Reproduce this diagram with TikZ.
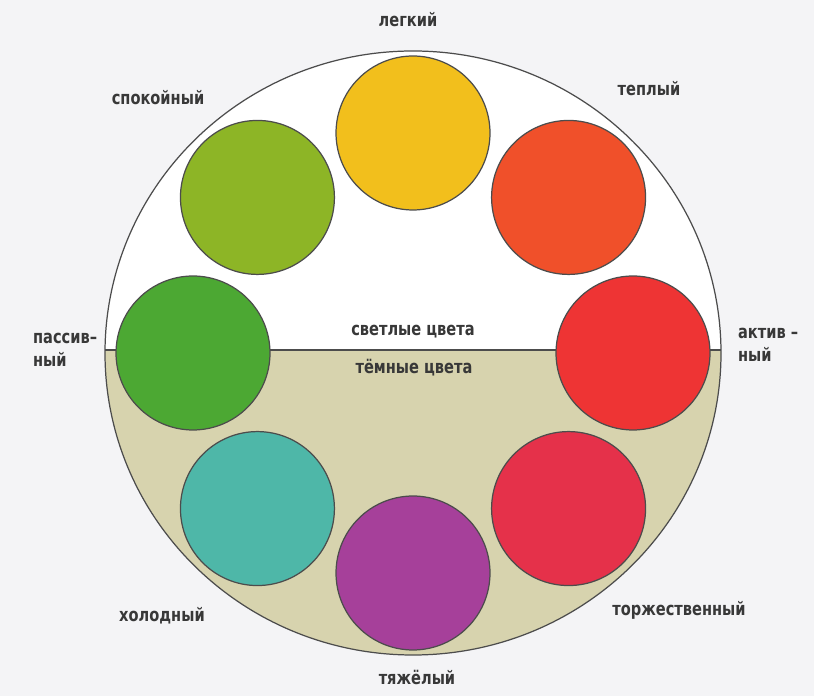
\documentclass[tikz,border=0pt]{standalone}
\usepackage{fontspec}
\setsansfont{DejaVu Sans Condensed}[FakeStretch=0.88]
\usetikzlibrary{calc, positioning}
\definecolor{cPage}{HTML}{F4F4F6}
\definecolor{cDark}{HTML}{D7D3AE}
\definecolor{cInk}{HTML}{383838}
\definecolor{cYel}{HTML}{F2BF1C}
\definecolor{cOra}{HTML}{F0502A}
\definecolor{cRed}{HTML}{EE3434}
\definecolor{cCrm}{HTML}{E5314A}
\definecolor{cPur}{HTML}{A6409A}
\definecolor{cTea}{HTML}{4EB7A8}
\definecolor{cGrn}{HTML}{4CA833}
\definecolor{cLim}{HTML}{8DB526}
\tikzset{
    wheel/.style={draw=cInk!90, line width=0.7pt},
    tone/.style={circle, draw=cInk!90, line width=0.7pt, minimum size=3.08cm, inner sep=0pt},
    lbl/.style={font=\sffamily\bfseries\fontsize{10.5}{13}\selectfont, text=cInk, inner sep=1pt},
}

\begin{document}
\begin{tikzpicture}[x=0.02cm, y=0.02cm]
\useasboundingbox (0,0) rectangle (814,696);
\fill[cPage] (0,0) rectangle (814,696);

\coordinate (mid) at (413,343);

% grosser Kreis, untere Haelfte dunkel
\fill[white] (mid) ellipse [x radius=308, y radius=302];
\begin{scope}
  \clip (0,0) rectangle (814,346);
  \fill[cDark] (mid) ellipse [x radius=308, y radius=302];
\end{scope}
\draw[wheel] (mid) ellipse [x radius=308, y radius=302];
\coordinate (lineL) at (105,346);
\coordinate (lineR) at (721,346);
\draw[wheel] (lineL) -- (lineR);

% acht Farbkreise
\foreach \name/\ang/\col in {yel/90/cYel, ora/45/cOra, red/0/cRed, crm/-45/cCrm,
                             pur/-90/cPur, tea/-135/cTea, grn/180/cGrn, lim/135/cLim}{
  \node[tone, fill=\col] (t-\name) at ($(mid)+(\ang:220)$) {};
}

% Beschriftungen
\node[lbl] (l-yel) at (408,676) {легкий};
\node[lbl] (l-ora) at (649,607) {теплый};
\node[lbl] (l-lim) at (158,598) {спокойный};
\node[lbl, align=left, anchor=west] (l-grn) at (31,346) {пассив–\\ный};
\node[lbl, align=left, anchor=west] (l-red) at (736,351) {актив –\\ный};
\node[lbl] (l-up) at (413,364) {светлые цвета};
\node[lbl] (l-dn) at (414,328) {тёмные цвета};
\node[lbl] (l-tea) at (162,80) {холодный};
\node[lbl] (l-pur) at (417,19) {тяжёлый};
\node[lbl] (l-crm) at (679,86) {торжественный};

\end{tikzpicture}
\end{document}
